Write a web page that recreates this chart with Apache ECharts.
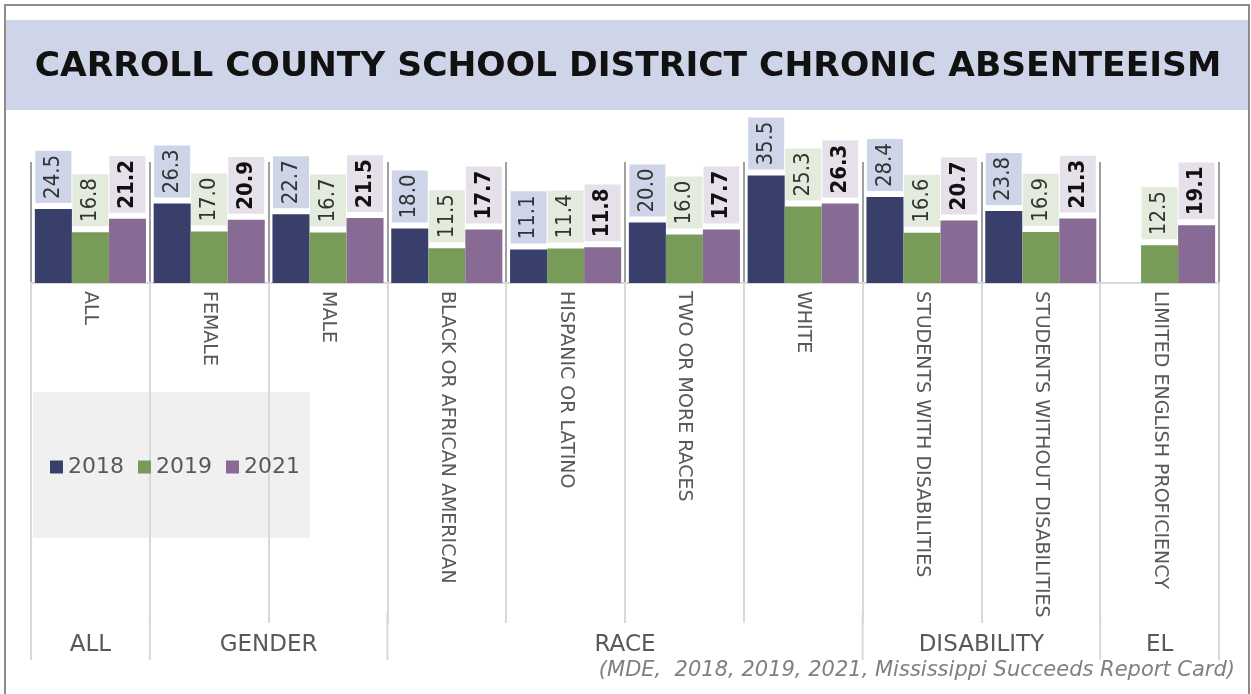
<!DOCTYPE html>
<html>
<head>
<meta charset="utf-8">
<script src="https://cdn.jsdelivr.net/npm/echarts@6/dist/echarts.min.js"></script>
<style>html,body{margin:0;padding:0;background:#fff;}#c{width:1251px;height:694px;}</style>
</head>
<body>
<div id="c"></div>
<script>
const titleText = 'CARROLL COUNTY SCHOOL DISTRICT CHRONIC ABSENTEEISM';
const sourceText = '(MDE,  2018, 2019, 2021, Mississippi Succeeds Report Card)';
const categories = ['ALL', 'FEMALE', 'MALE', 'BLACK OR AFRICAN AMERICAN', 'HISPANIC OR LATINO', 'TWO OR MORE RACES', 'WHITE', 'STUDENTS WITH DISABILITIES', 'STUDENTS WITHOUT DISABILITIES', 'LIMITED ENGLISH PROFICIENCY'];
const seriesNames = ['2018', '2019', '2021'];
const values2018 = [24.5, 26.3, 22.7, 18.0, 11.1, 20.0, 35.5, 28.4, 23.8, null];
const values2019 = [16.8, 17.0, 16.7, 11.5, 11.4, 16.0, 25.3, 16.6, 16.9, 12.5];
const values2021 = [21.2, 20.9, 21.5, 17.7, 11.8, 17.7, 26.3, 20.7, 21.3, 19.1];
// groups: label, first category index, last category index
const groupNames = ['ALL', 'GENDER', 'RACE', 'DISABILITY', 'EL'];
const groupStart = [0, 1, 3, 7, 9];
const groupEnd = [0, 2, 6, 8, 9];

const barColors = ['#383f6b', '#789b5a', '#876b95'];
const labelBg = ['#cfd5e8', '#e3ebdd', '#e6e0ea'];
const allValues = [values2018, values2019, values2021];

const chart = echarts.init(document.getElementById('c'), null, {renderer: 'canvas'});

function mkSeries(i) {
  return {
    name: seriesNames[i],
    type: 'bar',
    data: allValues[i],
    barGap: '0%',
    barCategoryGap: '6.5%',
    itemStyle: {color: barColors[i]},
    label: {
      show: true,
      position: 'top',
      distance: 6,
      rotate: 90,
      align: 'left',
      verticalAlign: 'middle',
      formatter: p => (p.value == null ? '' : p.value.toFixed(1)),
      fontFamily: '"DejaVu Sans Condensed", "DejaVu Sans", sans-serif',
      fontSize: 22,
      fontWeight: i === 2 ? 'bold' : 'normal',
      color: i === 2 ? '#111' : '#333',
      backgroundColor: labelBg[i],
      lineHeight: 26,
      padding: [5, 4, 5, 4]
    }
  };
}

const option = {
  animation: false,
  backgroundColor: '#ffffff',
  grid: {left: 31, right: 32, top: 162, bottom: 411, containLabel: false},
  legend: {
    data: seriesNames,
    left: 45, top: 451,
    icon: 'rect', itemWidth: 13, itemHeight: 13, itemGap: 14,
    textStyle: {fontFamily: '"DejaVu Sans", sans-serif', fontSize: 22, color: '#595959'}
  },
  xAxis: {
    type: 'category',
    data: categories,
    boundaryGap: true,
    axisLine: {show: true, lineStyle: {color: '#d9d9d9', width: 2}},
    axisTick: {show: true, length: 340, lineStyle: {color: '#d9d9d9', width: 2}},
    splitLine: {show: true, lineStyle: {color: '#a0a0a0', width: 2}},
    axisLabel: {
      rotate: -90, margin: 8, interval: 0,
      fontFamily: '"DejaVu Sans", sans-serif',
      fontSize: 19, color: '#595959'
    }
  },
  yAxis: {type: 'value', min: 0, max: 40, show: false, splitLine: {show: false}},
  series: [mkSeries(0), mkSeries(1), mkSeries(2)],
  graphic: []
};
chart.setOption(option);

// Decorations computed from the chart's own scale
const x0 = chart.convertToPixel({xAxisIndex: 0}, 0);
const x1 = chart.convertToPixel({xAxisIndex: 0}, 1);
const band = x1 - x0;
const boundary = i => x0 - band / 2 + i * band;
const axisY = chart.convertToPixel({yAxisIndex: 0}, 0);

const g = [];
// outer frame
g.push({type: 'rect', z: -10, shape: {x: 5, y: 5, width: 1244, height: 700}, style: {fill: '#fff', stroke: '#8c8c8c', lineWidth: 2}});
// title band
g.push({type: 'rect', z: -5, shape: {x: 6, y: 20, width: 1242, height: 90}, style: {fill: '#cfd5e8'}});
g.push({type: 'text', z: 5, x: 628, y: 67, style: {text: titleText, fill: '#111', font: 'bold 34.5px "DejaVu Sans", sans-serif', textAlign: 'center', textVerticalAlign: 'middle'}});
// legend box
g.push({type: 'rect', z: -1, shape: {x: 33, y: 392, width: 277, height: 146}, style: {fill: '#f0f0f0'}});
// group boundary extensions and labels
const bIdx = [0];
for (let k = 0; k < groupNames.length; k++) bIdx.push(groupEnd[k] + 1);
bIdx.forEach(i => {
  g.push({type: 'line', z: 1, shape: {x1: boundary(i), y1: axisY + 330, x2: boundary(i), y2: 660}, style: {stroke: '#d9d9d9', lineWidth: 2}});
});
for (let k = 0; k < groupNames.length; k++) {
  const cx = (boundary(groupStart[k]) + boundary(groupEnd[k] + 1)) / 2;
  g.push({type: 'text', z: 5, x: cx, y: 645, style: {text: groupNames[k], fill: '#595959', font: '23px "DejaVu Sans", sans-serif', textAlign: 'center', textVerticalAlign: 'middle'}});
}
g.push({type: 'text', z: 5, x: 1235, y: 671, style: {text: sourceText, fill: '#808080', font: 'italic 21px "DejaVu Sans", sans-serif', textAlign: 'right', textVerticalAlign: 'middle'}});
chart.setOption({graphic: g});
</script>
</body>
</html>
